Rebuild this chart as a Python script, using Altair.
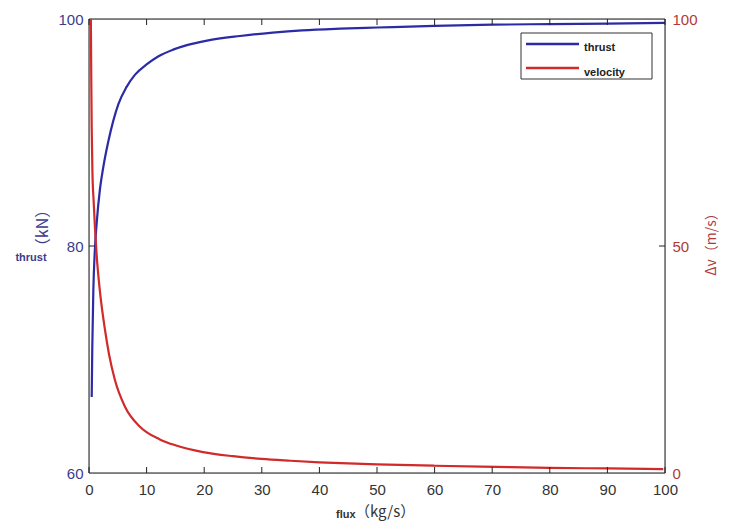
import altair as alt
import pandas as pd

# ---- data ----
thrust_x = [0.47, 0.57, 0.75, 1.0, 1.33, 1.9, 2.5, 3.35, 4.2, 5.1, 6.5, 8.0, 10, 12,
            14.6, 17, 20.5, 26.2, 31.9, 37, 43.6, 50, 60, 70, 80, 90, 100]
thrust_y = [66.7, 71.0, 76.0, 79.5, 82.0, 85.0, 87.0, 89.2, 91.0, 92.5, 94.0, 95.1, 96.0, 96.7,
            97.3, 97.7, 98.1, 98.5, 98.8, 99.0, 99.15, 99.25, 99.4, 99.5, 99.55, 99.6, 99.65]

velocity_x = [0.32, 0.4, 0.47, 0.6, 0.8, 1.04, 1.33, 1.9, 2.78, 3.5, 4.5, 6.25, 8.85, 12.3,
              15, 19.8, 25, 30, 35, 40, 45, 50, 60, 70.8, 80, 90, 99.7]
velocity_y = [100, 86, 76, 66, 60, 54, 48, 40, 31.5, 26, 20.5, 14.6, 10.2, 7.4,
              6.1, 4.6, 3.7, 3.1, 2.7, 2.35, 2.1, 1.9, 1.6, 1.35, 1.15, 1.0, 0.85]

x_ticks = [0, 10, 20, 30, 40, 50, 60, 70, 80, 90, 100]
left_ticks = [60, 80, 100]
right_ticks = [0, 50, 100]

BLUE = "#2b2ba6"
RED = "#d02a2a"
FONT = "Liberation Sans"

df_t = pd.DataFrame({"flux": thrust_x, "thrust": thrust_y})
df_v = pd.DataFrame({"flux": velocity_x, "velocity": velocity_y})
df_xt = pd.DataFrame({"flux": x_ticks})
df_lt = pd.DataFrame({"val": [80]})
df_rt = pd.DataFrame({"val": [50]})

xscale = alt.Scale(domain=[0, 100], nice=False)
lscale = alt.Scale(domain=[60, 100], nice=False, zero=False)
rscale = alt.Scale(domain=[0, 100], nice=False)

xaxis = alt.Axis(values=x_ticks, tickSize=0, labelPadding=9, grid=False, domain=False,
                 title=None, labelFont=FONT, labelFontSize=15, labelColor="#333333",
                 labelFlush=False, labelOverlap=False)

X = alt.X("flux:Q", scale=xscale, axis=xaxis)

one = pd.DataFrame({"a": [0]})

# frame (box) drawn explicitly so all four sides are dark
frame = alt.Chart(one).mark_rect(fill=None, stroke="#1a1a1a", strokeWidth=1).encode(
    x=alt.value(0), x2=alt.value(576), y=alt.value(0), y2=alt.value(454))

thrust_line = alt.Chart(df_t).mark_line(color=BLUE, strokeWidth=2.2, interpolate="monotone").encode(
    x=X,
    y=alt.Y("thrust:Q", scale=lscale,
            axis=alt.Axis(orient="left", values=left_ticks, tickSize=0, labelPadding=6, grid=False,
                          domain=False, title=None, labelFont=FONT, labelFontSize=15,
                          labelColor="#3b3b8f", labelFlush=False)),
)

vel_line = alt.Chart(df_v).mark_line(color=RED, strokeWidth=2.2, interpolate="monotone").encode(
    x=X,
    y=alt.Y("velocity:Q", scale=rscale,
            axis=alt.Axis(orient="right", values=right_ticks, tickSize=0, labelPadding=7, grid=False,
                          domain=False, title=None, labelFont=FONT, labelFontSize=15,
                          labelColor="#b03a3a", labelFlush=False)),
)

# inward ticks (MATLAB style)
bottom_ticks = alt.Chart(df_xt).mark_rule(color="#222222").encode(
    x=X, y=alt.value(454), y2=alt.value(448))
top_ticks = alt.Chart(df_xt).mark_rule(color="#222222").encode(
    x=X, y=alt.value(0), y2=alt.value(6))
left_tick = alt.Chart(df_lt).mark_rule(color="#222222").encode(
    y=alt.Y("val:Q", scale=lscale, axis=None), x=alt.value(0), x2=alt.value(6))
right_tick = alt.Chart(df_rt).mark_rule(color="#222222").encode(
    y=alt.Y("val:Q", scale=rscale, axis=None), x=alt.value(576), x2=alt.value(570))

# legend
leg_box = alt.Chart(one).mark_rect(fill="white", stroke="#333333", strokeWidth=1).encode(
    x=alt.value(432), x2=alt.value(563), y=alt.value(14), y2=alt.value(60))
leg_blue = alt.Chart(one).mark_rule(color=BLUE, strokeWidth=2.5).encode(
    x=alt.value(437), x2=alt.value(490), y=alt.value(25))
leg_red = alt.Chart(one).mark_rule(color=RED, strokeWidth=2.5).encode(
    x=alt.value(437), x2=alt.value(490), y=alt.value(49))
leg_t1 = alt.Chart(one).mark_text(
    text="thrust", align="left", baseline="middle", font=FONT, fontSize=11, fontWeight="bold",
    color="#222222").encode(x=alt.value(495), y=alt.value(29))
leg_t2 = alt.Chart(one).mark_text(
    text="velocity", align="left", baseline="middle", font=FONT, fontSize=11, fontWeight="bold",
    color="#222222").encode(x=alt.value(495), y=alt.value(54))

# axis titles
xt1 = alt.Chart(one).mark_text(
    text="flux", align="left", baseline="middle", font=FONT, fontSize=11, fontWeight="bold",
    color="#333333").encode(x=alt.value(247), y=alt.value(496))
xt2 = alt.Chart(one).mark_text(
    text="（kg/s）", align="left", baseline="middle", font="Noto Sans CJK SC", fontSize=15,
    color="#333333").encode(x=alt.value(266), y=alt.value(493))
yl1 = alt.Chart(one).mark_text(
    text="thrust", align="center", baseline="middle", font=FONT, fontSize=11, fontWeight="bold",
    color="#3b3b8f").encode(x=alt.value(-58), y=alt.value(239))
yl2 = alt.Chart(one).mark_text(
    text="（kN）", align="center", baseline="middle", font="Noto Sans CJK SC", fontSize=16, angle=270,
    color="#3b3b8f").encode(x=alt.value(-46), y=alt.value(209))
yr = alt.Chart(one).mark_text(
    text="Δv（m/s）", align="center", baseline="middle", font="Noto Sans CJK SC", fontSize=14, angle=270,
    color="#b03a3a").encode(x=alt.value(623), y=alt.value(222))

chart = alt.layer(
    frame, thrust_line, vel_line, bottom_ticks, top_ticks, left_tick, right_tick,
    leg_box, leg_blue, leg_red, leg_t1, leg_t2, xt1, xt2, yl1, yl2, yr
).resolve_scale(y="independent").properties(
    width=576, height=454,
    autosize=alt.AutoSizeParams(type="none"),
    padding={"left": 81, "top": 11, "right": 58, "bottom": 50},
).configure_view(stroke="#111111", strokeWidth=1).configure(background="white")

chart.save("out.html", embed_options={"renderer": "svg", "actions": False})
